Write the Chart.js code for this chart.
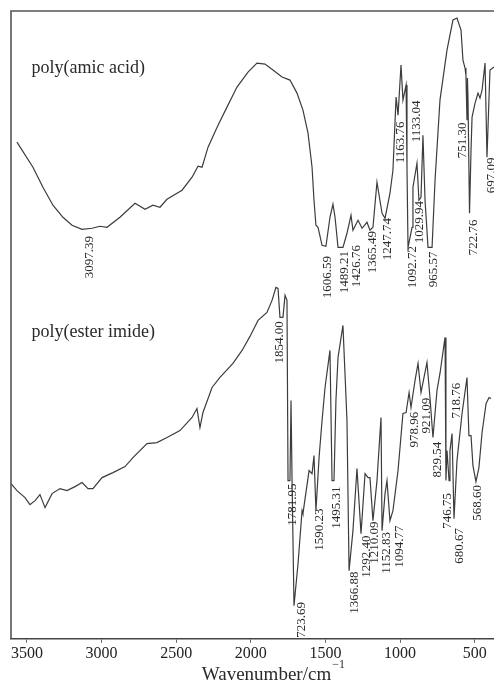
<!DOCTYPE html>
<html>
<head>
<meta charset="utf-8">
<script src="https://cdn.jsdelivr.net/npm/chart.js@4/dist/chart.umd.min.js"></script>
<style>
  html, body { margin: 0; padding: 0; background: #fff; }
  #wrap { width: 494px; height: 691px; }
</style>
</head>
<body>
<div id="wrap"><canvas id="ir"></canvas></div>
<script>
// wavenumber axis ticks
const xTicks = [3500, 3000, 2500, 2000, 1500, 1000, 500];

// poly(amic acid) trace: wavenumber / relative transmittance
const amicWn = [3567, 3460, 3393, 3326, 3259, 3198, 3131, 3064, 3011, 2964, 2877, 2776, 2709, 2656, 2609, 2562,
  2461, 2394, 2354, 2327, 2287, 2220, 2160, 2093, 2019, 1959, 1905, 1852, 1791, 1738, 1691, 1651, 1617, 1590,
  1577, 1564, 1550, 1523, 1497, 1470, 1450, 1436, 1416, 1383, 1356, 1329, 1316, 1282, 1255, 1222, 1202, 1182,
  1155, 1121, 1101, 1068, 1048, 1027, 1014, 994, 981, 960, 954, 947, 920, 914, 887, 874, 860, 847, 833, 813,
  786, 766, 733, 686, 646, 619, 592, 579, 565, 559, 552, 549, 545, 535, 525, 518, 498, 478, 465, 451, 431,
  418, 398, 371];
const amicT = [496, 471, 451, 433, 421, 413, 409, 410, 412, 411, 421, 435, 429, 433, 431, 439,
  448, 461, 472, 471, 491, 513, 531, 551, 566, 575, 574, 568, 561, 558, 545, 528, 505, 471,
  438, 413, 411, 393, 392, 421, 434, 421, 391, 391, 405, 423, 408, 418, 410, 416, 408, 411,
  456, 425, 420, 445, 468, 541, 523, 573, 538, 553, 471, 391, 411, 451, 475, 438, 441, 503, 438, 391,
  391, 458, 538, 588, 618, 620, 608, 578, 570, 563, 518, 560, 538, 425, 488, 521, 535, 545, 540, 548, 575,
  481, 568, 571];

// poly(ester imide) trace
const esterWn = [3607, 3567, 3513, 3480, 3446, 3413, 3379, 3332, 3279, 3232, 3178, 3131, 3091, 3058, 2997, 2924,
  2843, 2790, 2696, 2629, 2562, 2475, 2394, 2361, 2341, 2321, 2260, 2207, 2120, 2059, 2006, 1952, 1892, 1858,
  1832, 1818, 1805, 1785, 1771, 1758, 1751, 1738, 1731, 1724, 1711, 1684, 1657, 1651, 1610, 1590, 1577, 1564,
  1543, 1523, 1503, 1470, 1456, 1443, 1430, 1416, 1383, 1356, 1342, 1316, 1289, 1262, 1235, 1215, 1202, 1182,
  1155, 1128, 1121, 1101, 1088, 1068, 1048, 1014, 981, 960, 940, 927, 900, 880, 860, 820, 800, 780, 753, 733,
  699, 693, 686, 672, 666, 652, 639, 619, 585, 552, 539, 525, 512, 492, 472, 451, 424, 404, 391];
const esterT = [155, 148, 141, 134, 138, 144, 131, 145, 150, 148, 152, 156, 150, 150, 161, 166,
  172, 181, 195, 196, 201, 208, 221, 230, 211, 226, 251, 261, 275, 288, 302, 318, 326, 338,
  351, 350, 321, 321, 343, 338, 158, 158, 238, 158, 33, 75, 128, 125, 168, 165, 183, 128,
  181, 218, 251, 288, 158, 158, 238, 281, 313, 218, 68, 108, 170, 105, 165, 161, 161, 118,
  158, 221, 108, 145, 158, 118, 128, 168, 225, 226, 246, 231, 258, 275, 246, 276, 241, 201, 248, 265,
  301, 158, 188, 158, 188, 205, 120, 178, 225, 261, 203, 203, 173, 157, 171, 206, 235, 241, 240];

// peak annotations: text, anchor wavenumber, anchor height (start of the upright text)
const peakText = ['3097.39', '1606.59', '1489.21', '1426.76', '1365.49', '1247.74', '1163.76', '1133.04',
  '1092.72', '1029.94', '965.57', '751.30', '722.76', '697.09',
  '1854.00', '1781.95', '723.69', '1590.23', '1495.31', '1366.88', '1292.40', '1210.09', '1152.83',
  '1094.77', '978.96', '921.09', '829.54', '746.75', '718.76', '680.67', '568.60'];
const peakWn = [3078, 1483, 1369, 1289, 1182, 1081, 994, 893, 914, 867, 773, 579, 505, 384,
  1805, 1718, 1657, 1537, 1423, 1302, 1222, 1168, 1088, 1001, 900, 820, 746, 679, 619, 599, 478];
const peakY = [360, 340, 345, 351, 365, 378, 475, 496, 350, 395, 351, 480, 383, 445,
  275, 113, 1, 88, 110, 25, 61, 75, 65, 71, 191, 205, 161, 110, 220, 75, 118];

const seriesNames = ['poly(amic acid)', 'poly(ester imide)'];
const seriesNameWn = [3470, 3470];
const seriesNameY = [570, 306];

const toPoints = (xs, ys) => xs.map((x, i) => ({ x: x, y: ys[i] }));

const serif = '"Liberation Serif", "Times New Roman", serif';
const ink = '#3c3c3c';

const annotate = {
  id: 'annotate',
  afterDraw(chart) {
    const { ctx, chartArea: a, scales: { x, y } } = chart;
    ctx.save();
    // frame (left and top)
    ctx.strokeStyle = '#555';
    ctx.lineWidth = 1.6;
    ctx.beginPath();
    ctx.moveTo(a.left, a.bottom);
    ctx.lineTo(a.left, a.top);
    ctx.lineTo(a.right + 2, a.top);
    ctx.stroke();

    // peak labels, upright text
    ctx.fillStyle = '#2a2a2a';
    ctx.font = '13px ' + serif;
    ctx.textAlign = 'left';
    ctx.textBaseline = 'middle';
    peakText.forEach((t, i) => {
      ctx.save();
      ctx.translate(x.getPixelForValue(peakWn[i]), y.getPixelForValue(peakY[i]));
      ctx.rotate(-Math.PI / 2);
      ctx.fillText(t, 0, 0);
      ctx.restore();
    });

    // series names
    ctx.font = '18px ' + serif;
    seriesNames.forEach((t, i) => {
      ctx.fillText(t, x.getPixelForValue(seriesNameWn[i]), y.getPixelForValue(seriesNameY[i]));
    });

    // axis title with superscript
    ctx.font = '19px ' + serif;
    const main = 'Wavenumber/cm';
    const w = ctx.measureText(main).width;
    const cx = (a.left + a.right) / 2 + 14;
    ctx.textBaseline = 'alphabetic';
    ctx.fillText(main, cx - w / 2, chart.height - 11);
    ctx.font = '12px ' + serif;
    ctx.fillText('\u22121', cx + w / 2 + 1, chart.height - 23);
    ctx.restore();
  }
};

new Chart(document.getElementById('ir'), {
  type: 'line',
  data: {
    datasets: [
      {
        label: seriesNames[0],
        data: toPoints(amicWn, amicT),
        borderColor: ink,
        borderWidth: 1.2,
        pointRadius: 0,
        tension: 0,
      },
      {
        label: seriesNames[1],
        data: toPoints(esterWn, esterT),
        borderColor: ink,
        borderWidth: 1.2,
        pointRadius: 0,
        tension: 0,
      },
    ],
  },
  plugins: [annotate],
  options: {
    responsive: true,
    maintainAspectRatio: false,
    animation: false,
    layout: {
      padding: { left: 11, top: 11, right: 0, bottom: 27 },
    },
    plugins: {
      legend: { display: false },
      tooltip: { enabled: false },
    },
    scales: {
      x: {
        type: 'linear',
        reverse: true,
        min: 371,
        max: 3607,
        afterBuildTicks: (axis) => {
          axis.ticks = xTicks.map((v) => ({ value: v }));
        },
        ticks: {
          color: '#222',
          font: { family: serif, size: 16 },
          padding: 1,
          maxRotation: 0,
          autoSkip: false,
          callback: (v) => String(v),
        },
        grid: {
          drawOnChartArea: false,
          drawTicks: true,
          tickLength: 4,
          color: '#666',
        },
        border: { display: true, color: '#444', width: 1.6 },
      },
      y: {
        display: false,
        min: 0,
        max: 627,
      },
    },
  },
});
</script>
</body>
</html>
